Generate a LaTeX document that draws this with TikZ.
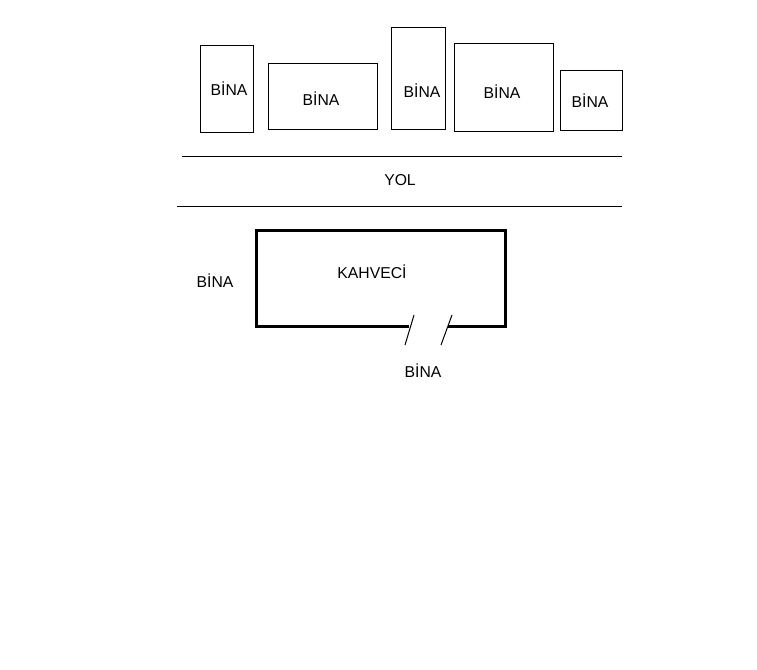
\documentclass[tikz,border=0pt]{standalone}
\usepackage{fontspec}
\setmainfont{Liberation Sans}
\usepackage{tikz}
\usetikzlibrary{calc}

\begin{document}
\begin{tikzpicture}[x=0.75pt,y=-0.75pt,font=\fontsize{11.8}{14}\selectfont,
  bina/.style={draw,line width=0.75pt},
  etiket/.style={inner sep=0pt}]
  \useasboundingbox (0,0) rectangle (757,670);
  % buildings along the road
  \draw[bina] (200,46) rectangle (253,133);
  \node[etiket] (b1) at (229,89) {BİNA};
  \draw[bina] (268,64) rectangle (377,130);
  \node[etiket] (b2) at (321,99) {BİNA};
  \draw[bina] (391,28) rectangle (445,130);
  \node[etiket] (b3) at (422,91) {BİNA};
  \draw[bina] (454,44) rectangle (553,132);
  \node[etiket] (b4) at (502,92) {BİNA};
  \draw[bina] (560,71) rectangle (622,131);
  \node[etiket] (b5) at (590,101) {BİNA};
  % road
  \draw[line width=0.75pt] (182,157) -- (622,157);
  \draw[line width=0.75pt] (177,207) -- (622,207);
  \node[etiket] (yol) at (400,180) {YOL};
  % coffee house, gap in the bottom wall for the door
  \draw[line width=2.25pt] (409,327) -- (256,327) -- (256,231) -- (505,231) -- (505,327) -- (448,327);
  \node[etiket] (kahveci) at (372,272) {KAHVECİ};
  % door marks
  \draw[line width=0.75pt] (414,315) -- (405,345);
  \draw[line width=0.75pt] (452,315) -- (441,345);
  % neighbours
  \node[etiket] (sol) at (215,281) {BİNA};
  \node[etiket] (alt) at (423,371) {BİNA};
\end{tikzpicture}
\end{document}
